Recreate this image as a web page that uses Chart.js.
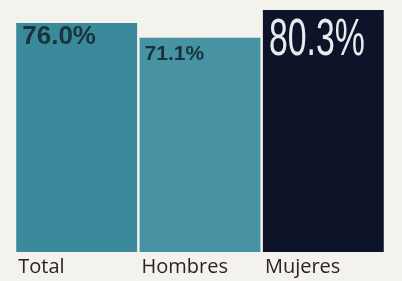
<!doctype html>
<html>
    <head>
        <title>Total, Hombres, Mujeres</title>
        <meta charset="utf-8">
        <script src="https://cdn.jsdelivr.net/npm/chart.js@4.4.0/dist/chart.umd.min.js"></script>
        <style>
            body { margin: 0; background: #f4f2ed; }
            #container { width: 402px; height: 281px; }
        </style>
    </head>
    <body>
        <div id=container>
            <canvas id="barChart" width="402" height="281"></canvas>
        </div>

        <script>
            var categories = ['Total', 'Hombres', 'Mujeres'];
            var values = [76.0, 71.1, 80.3];
            var valueLabels = ['76.0%', '71.1%', '80.3%'];
            var barColors = ['#3b8a9b', '#4793a4', '#0d1328'];

            // value text inside each bar and category name under it
            var barText = {
                id: 'barText',
                afterDatasetsDraw: function(chart) {
                    var ctx = chart.ctx;
                    var meta = chart.getDatasetMeta(0);
                    var bottom = chart.chartArea.bottom;
                    ctx.save();
                    ctx.textBaseline = 'alphabetic';
                    ctx.textAlign = 'left';
                    for (var i = 0; i < meta.data.length; i++) {
                        var bar = meta.data[i];
                        var left = bar.x - bar.width / 2;

                        // category
                        ctx.fillStyle = '#2a2422';
                        ctx.font = '20px "Open Sans"';
                        ctx.fillText(categories[i], left + 2, bottom + 21);

                        // value
                        if (i == 2) {
                            // tall condensed look: squeeze a regular face
                            ctx.save();
                            ctx.fillStyle = '#e6edee';
                            ctx.font = '52px "Liberation Sans"';
                            ctx.translate(left + 6, bar.y + 45);
                            ctx.scale(0.65, 1);
                            ctx.fillText(valueLabels[i], 0, 0);
                            ctx.restore();
                        } else if (i == 0) {
                            ctx.fillStyle = '#16343a';
                            ctx.font = 'bold 26px "Liberation Sans"';
                            ctx.fillText(valueLabels[i], left + 6, bar.y + 21);
                        } else {
                            ctx.fillStyle = '#16343a';
                            ctx.font = 'bold 21px "Liberation Sans"';
                            ctx.fillText(valueLabels[i], left + 5, bar.y + 22);
                        }
                    }
                    ctx.restore();
                }
            };

            var ctx = document.getElementById('barChart').getContext('2d');
            var chart = new Chart(ctx, {
                type: 'bar',
                data: {
                    labels: categories,
                    datasets: [{
                        data: values,
                        backgroundColor: barColors,
                        borderWidth: 0,
                        barPercentage: 0.98,
                        categoryPercentage: 1
                    }]
                },
                options: {
                    responsive: false,
                    animation: false,
                    layout: { padding: { left: 15, right: 17, top: 10, bottom: 29 } },
                    plugins: {
                        legend: { display: false },
                        tooltip: { enabled: false }
                    },
                    scales: {
                        x: { display: false },
                        y: { display: false, min: 0, max: 80.3 }
                    }
                },
                plugins: [barText]
            });
        </script>
    </body>
</html>
